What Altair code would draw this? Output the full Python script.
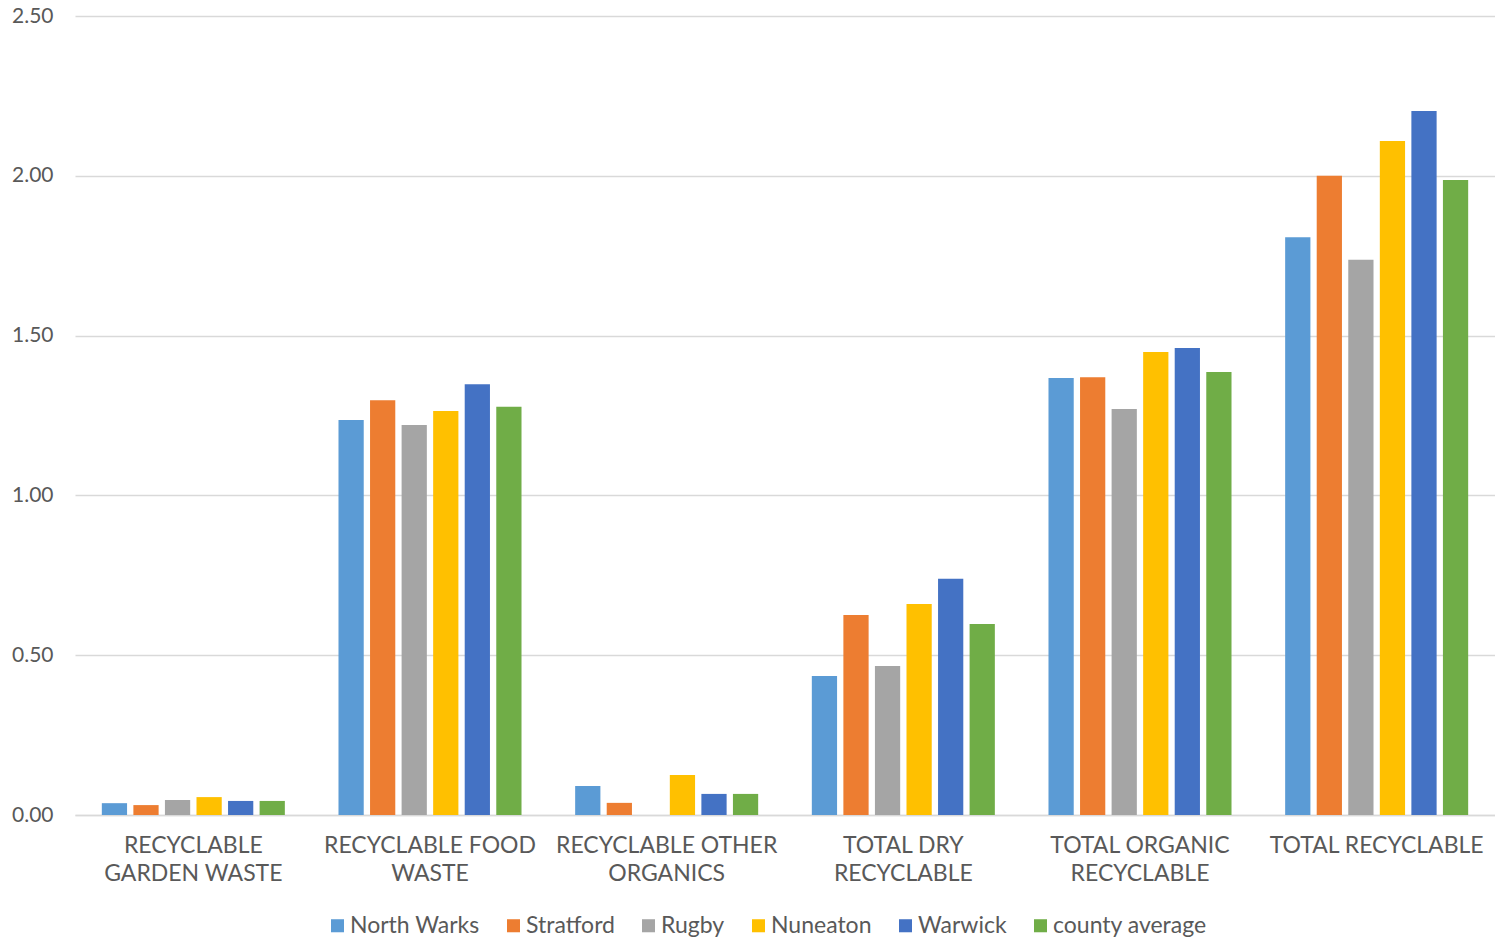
import altair as alt
import pandas as pd

# Recycling rates per household, by material stream and district
categories = [
    "RECYCLABLE\nGARDEN WASTE",
    "RECYCLABLE FOOD\nWASTE",
    "RECYCLABLE OTHER\nORGANICS",
    "TOTAL DRY\nRECYCLABLE",
    "TOTAL ORGANIC\nRECYCLABLE",
    "TOTAL RECYCLABLE",
]
districts = ["North Warks", "Stratford", "Rugby", "Nuneaton", "Warwick", "county average"]
colors = ["#5B9BD5", "#ED7D31", "#A5A5A5", "#FFC000", "#4472C4", "#70AD47"]

north_warks = [0.037, 1.236, 0.091, 0.435, 1.367, 1.808]
stratford = [0.031, 1.298, 0.038, 0.626, 1.370, 2.000]
rugby = [0.047, 1.220, 0.000, 0.466, 1.270, 1.737]
nuneaton = [0.056, 1.264, 0.125, 0.660, 1.449, 2.109]
warwick = [0.044, 1.348, 0.066, 0.739, 1.461, 2.203]
county_average = [0.044, 1.277, 0.066, 0.598, 1.386, 1.987]

series = [north_warks, stratford, rugby, nuneaton, warwick, county_average]

rows = []
for name, vals in zip(districts, series):
    for cat, v in zip(categories, vals):
        rows.append({"category": cat, "district": name, "value": v})
df = pd.DataFrame(rows)

FONT = "Lato"
TEXT = "#595959"

chart = (
    alt.Chart(df)
    .mark_bar()
    .encode(
        x=alt.X(
            "category:N",
            sort=categories,
            title=None,
            scale=alt.Scale(paddingInner=0.2, paddingOuter=0.1),
            axis=alt.Axis(
                labelAngle=0,
                labelExpr="split(datum.label, '\\n')",
                labelFont=FONT,
                labelFontSize=23,
                labelColor=TEXT,
                labelLineHeight=28,
                labelPadding=19,
                ticks=False,
                grid=False,
                domainColor="#d9d9d9",
                domainWidth=1.5,
                labelLimit=300,
            ),
        ),
        xOffset=alt.XOffset(
            "district:N",
            sort=districts,
            scale=alt.Scale(paddingInner=0.2, paddingOuter=0.1),
        ),
        y=alt.Y(
            "value:Q",
            title=None,
            scale=alt.Scale(domain=[0, 2.5], nice=False),
            axis=alt.Axis(
                values=[0, 0.5, 1.0, 1.5, 2.0, 2.5],
                format=".2f",
                labelFont=FONT,
                labelFontSize=21,
                labelColor=TEXT,
                labelPadding=22,
                ticks=False,
                domain=False,
                gridColor="#d9d9d9",
                gridWidth=1.3,
            ),
        ),
        color=alt.Color(
            "district:N",
            sort=districts,
            scale=alt.Scale(domain=districts, range=colors),
            legend=alt.Legend(
                title=None,
                orient="none",
                direction="horizontal",
                legendX=251,
                legendY=898,
                symbolType="square",
                symbolSize=170,
                symbolStrokeWidth=0,
                labelFont=FONT,
                labelFontSize=23,
                labelColor=TEXT,
                labelOffset=1,
                columnPadding=22,
            ),
        ),
    )
    .properties(
        width=1420,
        height=799,
        background="white",
        autosize=alt.AutoSizeParams(type="none"),
        padding={"left": 75, "top": 16, "right": 0, "bottom": 125},
    )
    .configure_view(strokeWidth=0, stroke="transparent")
)

chart.save("out.html", embed_options={"renderer": "svg", "actions": False})
